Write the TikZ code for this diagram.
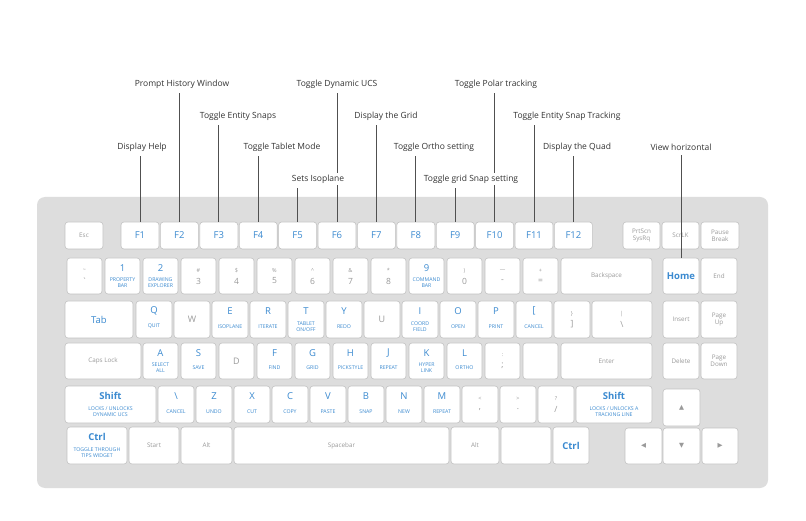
\documentclass[tikz,border=0pt]{standalone}
\usepackage{fontspec}
\setmainfont{Open Sans}
\newfontfamily\symf{DejaVu Sans}
\usetikzlibrary{calc}
\pgfdeclarelayer{front}
\pgfsetlayers{main,front}
\definecolor{kblue}{HTML}{3B8AD0}
\definecolor{kgray}{HTML}{9A9A9A}
\definecolor{kbord}{HTML}{C2C2C2}
\definecolor{kbg}{HTML}{DDDDDD}
\definecolor{labc}{HTML}{333333}
\definecolor{linc}{HTML}{505050}
\tikzset{
  key/.style={draw=kbord, fill=white, rounded corners=3pt, line width=0.6pt, inner sep=0pt},
  ltr/.style={text=kblue, font=\fontsize{9.5}{10}\selectfont, inner sep=0pt},
  ltrb/.style={text=kblue, font=\fontsize{9.5}{10}\selectfont\bfseries, inner sep=0pt},
  sub/.style={text=kblue, font=\fontsize{5.2}{6}\selectfont, align=center, inner sep=0pt},
  gsm/.style={text=kgray, font=\fontsize{5.5}{6}\selectfont, inner sep=0pt},
  gdig/.style={text=kgray, font=\fontsize{8.5}{9}\selectfont, inner sep=0pt},
  gtx/.style={text=kgray, font=\fontsize{6.3}{7.2}\selectfont, align=center},
  glt/.style={text=kgray, font=\fontsize{9}{10}\selectfont},
  gar/.style={text=kgray, font=\symf\fontsize{6.5}{7}\selectfont},
  callout/.style={draw=linc, line width=0.7pt},
  toplab/.style={fill=white, text=labc, font=\fontsize{8.5}{10}\selectfont, inner sep=2pt},
}
% plain key with optional text: name x1 x2 y1 y2 style text
\newcommand\KT[7]{\node[key, #6, minimum width={(#3)-(#2)}, minimum height={(#5)-(#4)}] (#1) at ({((#2)+(#3))/2},{((#4)+(#5))/2}) {#7};}
\newcommand\KE[5]{\KT{#1}{#2}{#3}{#4}{#5}{}{}}
% letter key with sub label
\newcommand\KL[7]{\KE{#1}{#2}{#3}{#4}{#5}\node[ltr] (#1-a) at ([yshift=-10.5pt]#1.north) {#6};\node[sub] (#1-b) at ([yshift=-7pt]#1.center) {#7};}
% gray two-symbol key
\newcommand\KS[7]{\KE{#1}{#2}{#3}{#4}{#5}\node[gsm] (#1-a) at ([yshift=5.5pt]#1.center) {#6};\node[gdig] (#1-b) at ([yshift=-5pt]#1.center) {#7};}
\begin{document}
\begin{tikzpicture}[x=1pt,y=-1pt]
\useasboundingbox (0,0) rectangle (806,521);
\fill[white] (0,0) rectangle (806,521);
\fill[kbg, rounded corners=8pt] (37,197) rectangle (768,488);
% Row 1
\KT{esc}{65}{103}{222}{249}{gtx}{Esc}
\KT{F1}{121}{159}{222}{249}{ltr}{F1}
\KT{F2}{160.4}{198.4}{222}{249}{ltr}{F2}
\KT{F3}{199.8}{237.8}{222}{249}{ltr}{F3}
\KT{F4}{239.2}{277.2}{222}{249}{ltr}{F4}
\KT{F5}{278.6}{316.6}{222}{249}{ltr}{F5}
\KT{F6}{318}{356}{222}{249}{ltr}{F6}
\KT{F7}{357.4}{395.4}{222}{249}{ltr}{F7}
\KT{F8}{396.8}{434.8}{222}{249}{ltr}{F8}
\KT{F9}{436.2}{474.2}{222}{249}{ltr}{F9}
\KT{F10}{475.6}{513.6}{222}{249}{ltr}{F10}
\KT{F11}{515}{553}{222}{249}{ltr}{F11}
\KT{F12}{554.4}{592.4}{222}{249}{ltr}{F12}
\KT{prt}{623}{660}{222}{249}{gtx}{PrtScn\\SysRq}
\KT{scr}{662}{699}{222}{249}{gtx}{ScrLK}
\KT{pau}{701}{739}{222}{249}{gtx}{Pause\\Break}
% Row 2
\KS{tld}{67}{102}{258}{294}{\textasciitilde}{\textasciigrave}
\KL{n1}{105}{140}{258}{294}{1}{PROPERTY\\BAR}
\KL{n2}{143}{178}{258}{294}{2}{DRAWING\\EXPLORER}
\KS{n3}{181}{216}{258}{294}{\#}{3}
\KS{n4}{219}{254}{258}{294}{\$}{4}
\KS{n5}{257}{292}{258}{294}{\%}{5}
\KS{n6}{295}{330}{258}{294}{\^{}}{6}
\KS{n7}{333}{368}{258}{294}{\&}{7}
\KS{n8}{371}{406}{258}{294}{*}{8}
\KL{n9}{409}{444}{258}{294}{9}{COMMAND\\BAR}
\KS{n0}{447}{482}{258}{294}{)}{0}
\KS{mns}{485}{520}{258}{294}{—}{-}
\KS{eql}{523}{558}{258}{294}{+}{=}
\KT{bsp}{561}{652}{258}{294}{gtx}{Backspace}
\KT{home}{663}{699}{258}{294}{ltrb}{Home}
\KT{end}{701}{737}{258}{294}{gtx}{End}
% Row 3
\KT{tab}{65}{133}{301}{338}{ltr}{Tab}
\KL{q}{136}{172}{301}{338}{Q}{QUIT}
\KT{w}{174}{210}{301}{338}{glt}{W}
\KL{e}{212}{248}{301}{338}{E}{ISOPLANE}
\KL{r}{250}{286}{301}{338}{R}{ITERATE}
\KL{t}{288}{324}{301}{338}{T}{TABLET\\ON/OFF}
\KL{y}{326}{362}{301}{338}{Y}{REDO}
\KT{u}{364}{400}{301}{338}{glt}{U}
\KL{i}{402}{438}{301}{338}{I}{COORD\\FIELD}
\KL{o}{440}{476}{301}{338}{O}{OPEN}
\KL{p}{478}{514}{301}{338}{P}{PRINT}
\KL{lbr}{516}{552}{301}{338}{[}{CANCEL}
\KS{rbr}{554}{590}{301}{338}{\}}{]}
\KS{bsl}{592}{652}{301}{338}{|}{\textbackslash}
\KT{ins}{663}{699}{301}{338}{gtx}{Insert}
\KT{pgu}{701}{737}{301}{338}{gtx}{Page\\Up}
% Row 4
\KT{caps}{65}{141}{343}{379}{gtx}{Caps Lock}
\KL{a}{143}{178}{343}{379}{A}{SELECT\\ALL}
\KL{s}{181}{216}{343}{379}{S}{SAVE}
\KT{d}{219}{254}{343}{379}{glt}{D}
\KL{f}{257}{292}{343}{379}{F}{FIND}
\KL{g}{295}{330}{343}{379}{G}{GRID}
\KL{h}{333}{368}{343}{379}{H}{PICKSTYLE}
\KL{j}{371}{406}{343}{379}{J}{REPEAT}
\KL{k}{409}{444}{343}{379}{K}{HYPER\\LINK}
\KL{l}{447}{482}{343}{379}{L}{ORTHO}
\KS{sem}{485}{520}{343}{379}{:}{;}
\KE{quo}{523}{558}{343}{379}
\KT{ent}{561}{652}{343}{379}{gtx}{Enter}
\KT{del}{663}{699}{343}{379}{gtx}{Delete}
\KT{pgd}{701}{737}{343}{379}{gtx}{Page\\Down}
% Row 5
\KL{lsh}{65}{156}{386}{423}{\bfseries Shift}{LOCKS / UNLOCKS\\DYNAMIC UCS}
\KL{bsk}{158}{194}{386}{423}{\textbackslash}{CANCEL}
\KL{z}{196}{232}{386}{423}{Z}{UNDO}
\KL{x}{234}{270}{386}{423}{X}{CUT}
\KL{c}{272}{308}{386}{423}{C}{COPY}
\KL{v}{310}{346}{386}{423}{V}{PASTE}
\KL{b}{348}{384}{386}{423}{B}{SNAP}
\KL{n}{386}{422}{386}{423}{N}{NEW}
\KL{m}{424}{460}{386}{423}{M}{REPEAT}
\KS{lt}{462}{498}{386}{423}{<}{,}
\KS{gt}{500}{536}{386}{423}{>}{.}
\KS{qm}{538}{574}{386}{423}{?}{/}
\KL{rsh}{576}{652}{386}{423}{\bfseries Shift}{LOCKS / UNLOCKS A\\TRACKING LINE}
\KT{up}{663}{700}{389}{426}{gar}{▲}
% Row 6
\KL{lctrl}{67}{127}{427}{464}{\bfseries Ctrl}{TOGGLE THROUGH\\TIPS WIDGET}
\KT{start}{129}{179}{427}{464}{gtx}{Start}
\KT{lalt}{181}{232}{427}{464}{gtx}{Alt}
\KT{space}{234}{449}{427}{464}{gtx}{Spacebar}
\KT{ralt}{451}{499}{427}{464}{gtx}{Alt}
\KE{blank}{501}{551}{427}{464}
\KT{rctrl}{553}{589}{427}{464}{ltrb}{Ctrl}
\KT{left}{625}{662}{428}{464}{gar}{◀}
\KT{down}{663}{700}{428}{464}{gar}{▼}
\KT{right}{702}{738}{428}{464}{gar}{▶}
% Top labels
\begin{pgfonlayer}{front}
\node[toplab] (lPH) at (182,84) {Prompt History Window};
\node[toplab] (lDU) at (337,84) {Toggle Dynamic UCS};
\node[toplab] (lPT) at (496,84) {Toggle Polar tracking};
\node[toplab] (lES) at (238,116) {Toggle Entity Snaps};
\node[toplab] (lDG) at (386,116) {Display the Grid};
\node[toplab] (lET) at (567,116) {Toggle Entity Snap Tracking};
\node[toplab] (lDH) at (142,147) {Display Help};
\node[toplab] (lTM) at (282,147) {Toggle Tablet Mode};
\node[toplab] (lOS) at (434,147) {Toggle Ortho setting};
\node[toplab] (lDQ) at (577,147) {Display the Quad};
\node[toplab] (lVH) at (681,147) {View horizontal};
\node[toplab] (lSI) at (318,179) {Sets Isoplane};
\node[toplab] (lGS) at (471,179) {Toggle grid Snap setting};
\end{pgfonlayer}
% Callout lines
\draw[callout] ($(lDH.south -| F1.north)+(0,3)$) -- (F1.north);
\draw[callout] ($(lPH.south -| F2.north)+(0,3)$) -- (F2.north);
\draw[callout] ($(lES.south -| F3.north)+(0,3)$) -- (F3.north);
\draw[callout] ($(lTM.south -| F4.north)+(0,3)$) -- (F4.north);
\draw[callout] ($(lSI.south -| F5.north)+(0,3)$) -- (F5.north);
\draw[callout] ($(lDU.south -| F6.north)+(0,3)$) -- (F6.north);
\draw[callout] ($(lDG.south -| F7.north)+(0,3)$) -- (F7.north);
\draw[callout] ($(lOS.south -| F8.north)+(0,3)$) -- (F8.north);
\draw[callout] ($(lGS.south -| F9.north)+(0,3)$) -- (F9.north);
\draw[callout] ($(lPT.south -| F10.north)+(0,3)$) -- (F10.north);
\draw[callout] ($(lET.south -| F11.north)+(0,3)$) -- (F11.north);
\draw[callout] ($(lDQ.south -| F12.north)+(0,3)$) -- (F12.north);
\draw[callout] ($(lVH.south -| home.north)+(0,3)$) -- (home.north);
\end{tikzpicture}
\end{document}
